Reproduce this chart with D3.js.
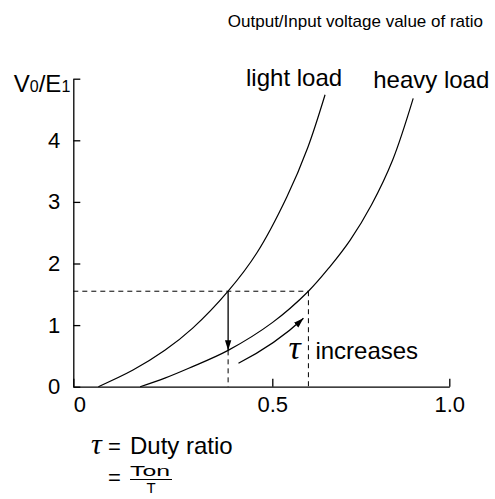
<!DOCTYPE html>
<html>
<head>
<meta charset="utf-8">
<script src="https://cdn.jsdelivr.net/npm/d3@7"></script>
<style>
  html, body { margin: 0; padding: 0; background: #fff; }
  svg { display: block; }
  text { font-family: "Liberation Sans", Arial, Helvetica, sans-serif; fill: #000; }
  .tau { font-family: "Liberation Serif", "DejaVu Serif", serif; font-style: italic; }
</style>
</head>
<body>
<svg id="chart" width="495" height="499"></svg>
<script>
// Output/input voltage ratio against duty ratio, light and heavy load
const lightX = [0.063, 0.15, 0.23, 0.30, 0.389, 0.461, 0.541, 0.600, 0.649];
const lightY = [0, 0.27, 0.59, 0.95, 1.55, 2.17, 3.08, 3.88, 4.74];
const heavyX = [0.168, 0.23, 0.29, 0.389, 0.50, 0.602, 0.663, 0.72, 0.78, 0.84, 0.898];
const heavyY = [0, 0.14, 0.30, 0.59, 1.04, 1.55, 1.95, 2.38, 2.95, 3.68, 4.68];
const seriesNames = ["light load", "heavy load"];

const xTicks = [0, 0.5, 1.0];
const xTickLabels = ["0", "0.5", "1.0"];
const yTicks = [0, 1, 2, 3, 4, 5];
const yTickLabels = ["0", "1", "2", "3", "4", ""];

// operating point: same output ratio on both curves
const opLevel = 1.55;
const opLightX = 0.389;
const opHeavyX = 0.602;
const opHeavyLow = 0.59;   // heavy-load value at the light-load duty ratio

// "duty ratio increases" arrow along the heavy curve
const incArrowX = [0.415, 0.51, 0.588];
const incArrowY = [0.38, 0.69, 1.11];

const title = "Output/Input voltage value of ratio";

const svg = d3.select("#chart");

const x = d3.scaleLinear().domain([0, 0.5, 1.0]).range([73.3, 272.3, 449.3]);
const y = d3.scaleLinear().domain([0, 5]).range([386.7, 78.7]);

// arrowhead marker
svg.append("defs").append("marker")
  .attr("id", "head")
  .attr("viewBox", "0 0 10 10")
  .attr("refX", 10).attr("refY", 5)
  .attr("markerWidth", 10).attr("markerHeight", 10)
  .attr("markerUnits", "userSpaceOnUse")
  .attr("orient", "auto")
  .append("path")
  .attr("d", "M0,1.8 L10,5 L0,8.2 Z")
  .attr("fill", "#000");

// axes
const yAxis = d3.axisLeft(y)
  .tickValues(yTicks)
  .tickFormat((d, i) => yTickLabels[i])
  .tickSizeInner(-7)
  .tickSizeOuter(0)
  .tickPadding(13);

const gy = svg.append("g").attr("transform", `translate(${x(0)},0)`).call(yAxis);
gy.selectAll("text").style("font-size", "22px").style("font-family", null);

const xAxis = d3.axisBottom(x)
  .tickValues(xTicks)
  .tickFormat((d, i) => xTickLabels[i])
  .tickSizeInner(-8)
  .tickSizeOuter(0)
  .tickPadding(10);

const gx = svg.append("g").attr("transform", `translate(0,${y(0)})`).call(xAxis);
gx.selectAll("text").style("font-size", "22px").style("font-family", null)
  .attr("dx", d => d === 0 ? 6 : 0);

svg.selectAll(".domain, .tick line").attr("stroke", "#000").attr("stroke-width", 1.3);

// curves
const line = d3.line().x(d => x(d[0])).y(d => y(d[1])).curve(d3.curveCatmullRom.alpha(0.5));
const lightPts = lightX.map((v, i) => [v, lightY[i]]);
const heavyPts = heavyX.map((v, i) => [v, heavyY[i]]);

svg.append("path").datum(lightPts).attr("d", line)
  .attr("fill", "none").attr("stroke", "#000").attr("stroke-width", 1.2);
svg.append("path").datum(heavyPts).attr("d", line)
  .attr("fill", "none").attr("stroke", "#000").attr("stroke-width", 1.2);

// dashed guides
const dash = "5,4";
svg.append("line")
  .attr("x1", x(0)).attr("x2", x(opHeavyX))
  .attr("y1", y(opLevel)).attr("y2", y(opLevel))
  .attr("stroke", "#000").attr("stroke-width", 1).attr("stroke-dasharray", dash);
svg.append("line")
  .attr("x1", x(opLightX)).attr("x2", x(opLightX))
  .attr("y1", y(opHeavyLow)).attr("y2", y(0))
  .attr("stroke", "#000").attr("stroke-width", 1).attr("stroke-dasharray", dash);
svg.append("line")
  .attr("x1", x(opHeavyX)).attr("x2", x(opHeavyX))
  .attr("y1", y(opLevel)).attr("y2", y(0))
  .attr("stroke", "#000").attr("stroke-width", 1).attr("stroke-dasharray", dash);

// drop arrow from light-load curve to heavy-load curve
svg.append("line")
  .attr("x1", x(opLightX)).attr("x2", x(opLightX))
  .attr("y1", y(opLevel)).attr("y2", y(opHeavyLow))
  .attr("stroke", "#000").attr("stroke-width", 1.3)
  .attr("marker-end", "url(#head)");

// increase arrow
const arrowPath = d3.path();
arrowPath.moveTo(x(incArrowX[0]), y(incArrowY[0]));
arrowPath.quadraticCurveTo(x(incArrowX[1]), y(incArrowY[1]), x(incArrowX[2]), y(incArrowY[2]));
svg.append("path").attr("d", arrowPath.toString())
  .attr("fill", "none").attr("stroke", "#000").attr("stroke-width", 1.3)
  .attr("marker-end", "url(#head)");

// curve labels
const lightEnd = lightPts[lightPts.length - 1];
const heavyEnd = heavyPts[heavyPts.length - 1];
svg.append("text").text(seriesNames[0])
  .attr("x", x(lightEnd[0]) - 79).attr("y", y(lightEnd[1]) - 9)
  .style("font-size", "24px");
svg.append("text").text(seriesNames[1])
  .attr("x", x(heavyEnd[0]) - 40).attr("y", y(heavyEnd[1]) - 10)
  .style("font-size", "24px");

// title
svg.append("text").text(title)
  .attr("x", 483).attr("y", 27)
  .attr("text-anchor", "end")
  .style("font-size", "17px");

// y-axis label V0/E1
const yl = svg.append("text")
  .attr("x", x(0) - 3).attr("y", y(5) + 13)
  .attr("text-anchor", "end")
  .style("font-size", "24px");
yl.append("tspan").text("V");
yl.append("tspan").text("0").style("font-size", "16px");
yl.append("tspan").text("/E");
yl.append("tspan").text("1").style("font-size", "16px");

// "τ increases"
svg.append("text").attr("class", "tau").text("τ")
  .attr("x", x(opHeavyX) - 20).attr("y", y(0.45))
  .style("font-size", "34px");
svg.append("text").text("increases")
  .attr("x", x(opHeavyX) + 7).attr("y", y(0.45))
  .style("font-size", "24px");

// definition of the duty ratio
svg.append("text").attr("class", "tau").text("τ")
  .attr("x", 91).attr("y", 454)
  .style("font-size", "30px");
svg.append("text").text("=")
  .attr("x", 108).attr("y", 454)
  .style("font-size", "22px");
svg.append("text").text("Duty ratio")
  .attr("x", 130).attr("y", 454)
  .style("font-size", "24px");
svg.append("text").text("=")
  .attr("x", 108).attr("y", 485)
  .style("font-size", "22px");
svg.append("text").text("Ton")
  .attr("x", 130).attr("y", 476)
  .attr("textLength", 40).attr("lengthAdjust", "spacingAndGlyphs")
  .style("font-size", "15px");
svg.append("line")
  .attr("x1", 130).attr("x2", 172)
  .attr("y1", 479.5).attr("y2", 479.5)
  .attr("stroke", "#000").attr("stroke-width", 1.2);
svg.append("text").text("T")
  .attr("x", 151).attr("y", 493)
  .attr("text-anchor", "middle")
  .style("font-size", "15px");
</script>
</body>
</html>
